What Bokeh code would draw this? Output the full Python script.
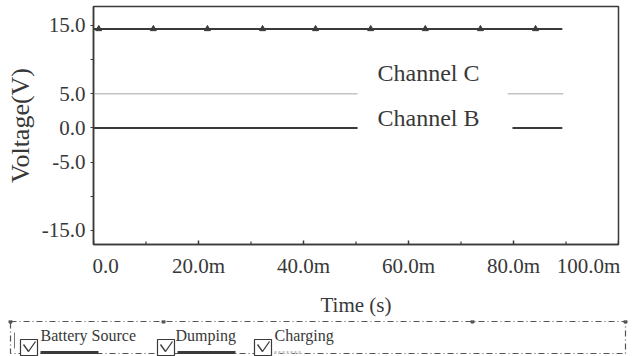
import math
from bokeh.plotting import figure
from bokeh.models import Range1d, FixedTicker
from bokeh.layouts import column
from bokeh.embed import file_html
from bokeh.resources import INLINE
from bokeh.core.properties import value

nan = float("nan")

# ---------------- data ----------------
time_ticks = [0, 20, 40, 60, 80, 100]
time_minor_ticks = [10, 30, 50, 70, 90]
time_tick_labels = ["0.0", "20.0m", "40.0m", "60.0m", "80.0m", "100.0m"]
# where the tick labels sit along the time axis (edge labels are pulled inwards)
time_label_pos = [2.3, 20, 40, 60, 80, 94.3]
volt_ticks = [15, 5, 0, -5, -15]
volt_tick_labels = ["15.0", "5.0", "0.0", "-5.0", "-15.0"]
volt_minor_ticks = [10, -10]

battery_t = [0.0, 89.3]
battery_v = [14.5, 14.5]
battery_marker_t = [1.0, 11.4, 21.7, 32.2, 42.3, 52.8, 63.2, 73.7, 84.2]
battery_marker_v = [14.5, 14.5, 14.5, 14.5, 14.5, 14.5, 14.5, 14.5, 14.5]

charging_t = [0.0, 50.3, nan, 78.9, 89.5]
charging_v = [5.0, 5.0, nan, 5.0, 5.0]

dumping_t = [0.0, 50.3, nan, 79.8, 89.3]
dumping_v = [0.0, 0.0, nan, 0.0, 0.0]

channel_names = ["Channel C", "Channel B"]
legend_names = ["Battery Source", "Dumping", "Charging"]

# ---------------- styles ----------------
SERIF = "Liberation Serif"
TXT = "#383838"
DARK = "#3a3a3a"
LIGHT = "#c4c4c4"

W = 633
Y0, Y1 = -17.05, 17.78
p = figure(width=W, height=320, output_backend="svg", toolbar_location=None,
           x_range=Range1d(0, 100), y_range=Range1d(Y0, Y1),
           min_border_left=93, min_border_right=15, min_border_top=6,
           min_border_bottom=76)
p.frame_align = False
p.toolbar.logo = None
p.grid.visible = False
p.background_fill_color = "white"
p.border_fill_color = "white"
p.outline_line_color = DARK
p.outline_line_width = 1.5

# x axis (labels; tick marks are drawn inside the frame below)
xa = p.xaxis[0]
xa.ticker = FixedTicker(ticks=time_label_pos, minor_ticks=[])
xa.major_label_overrides = {t: l for t, l in zip(time_label_pos, time_tick_labels)}
xa.axis_line_color = DARK
xa.axis_line_width = 1.5
xa.major_tick_line_color = None
xa.minor_tick_line_color = None
xa.major_tick_in = 0
xa.major_tick_out = 0
xa.minor_tick_in = 0
xa.minor_tick_out = 0
xa.major_label_standoff = 9
xa.major_label_text_font = SERIF
xa.major_label_text_font_size = "21px"
xa.major_label_text_color = TXT
xa.axis_label = "Time (s)"
xa.axis_label_text_font = SERIF
xa.axis_label_text_font_style = "normal"
xa.axis_label_text_font_size = "21px"
xa.axis_label_text_color = TXT
xa.axis_label_standoff = 12

# time tick marks, pointing into the frame
p.scatter(time_ticks, [Y0] * len(time_ticks), marker="dash", angle=math.pi / 2,
          size=8, line_color=DARK, line_width=1.5)
p.scatter(time_minor_ticks, [Y0] * len(time_minor_ticks), marker="dash",
          angle=math.pi / 2, size=6, line_color=DARK, line_width=1.2)

# y axis
ya = p.yaxis[0]
ya.ticker = FixedTicker(ticks=volt_ticks, minor_ticks=volt_minor_ticks)
ya.major_label_overrides = {t: l for t, l in zip(volt_ticks, volt_tick_labels)}
ya.axis_label = "Voltage(V)"
ya.axis_line_color = DARK
ya.axis_line_width = 1.5
ya.major_tick_line_color = DARK
ya.minor_tick_line_color = DARK
ya.major_label_text_font = SERIF
ya.major_label_text_font_size = "21px"
ya.major_label_text_color = TXT
ya.axis_label_text_font = SERIF
ya.axis_label_text_font_style = "normal"
ya.axis_label_text_color = TXT
ya.major_tick_in = 0
ya.major_tick_out = 3
ya.minor_tick_in = 0
ya.minor_tick_out = 3
ya.major_label_standoff = 5
ya.axis_label_text_font_size = "26px"
ya.axis_label_standoff = 4

# series
p.line(battery_t, battery_v, line_color=DARK, line_width=2)
p.scatter(battery_marker_t, battery_marker_v, marker="triangle", size=6,
          fill_color=DARK, line_color=DARK)
p.line(charging_t, charging_v, line_color=LIGHT, line_width=1.5)
p.line(dumping_t, dumping_v, line_color=DARK, line_width=2)

# channel labels
p.text(x=[54.1, 54.1], y=[7.98, 1.39], text=channel_names,
       text_font=value(SERIF), text_font_size="24px", text_color=TXT,
       text_baseline="middle", text_align="left")

# ---------------- legend strip ----------------
LH = 36
lg = figure(width=W, height=LH, output_backend="svg", toolbar_location=None,
            x_range=Range1d(0, W), y_range=Range1d(LH, 0),
            x_axis_type=None, y_axis_type=None, min_border=0)
lg.frame_align = False
lg.toolbar.logo = None
lg.grid.visible = False
lg.outline_line_color = None
lg.background_fill_color = "white"
lg.border_fill_color = "white"

# dash-dot frame
lg.line([10, 625, 625, 10, 10], [1, 1, 33, 33, 1], line_color="#555555",
        line_width=1.2, line_dash="6 3 1 3")
lg.scatter([10, 163, 472, 625], [1, 1, 1, 1], marker="square", size=3,
           fill_color="#555555", line_color="#555555")
lg.line([14, 14], [12, 28], line_color="#777777", line_width=1)

box_x = [20, 157, 254]
text_x = [40, 175, 274]
bar_x0 = [40, 177, 274]
bar_x1 = [98, 235, 300]
bar_color = [DARK, DARK, LIGHT]
bar_dash = ["solid", "solid", "2 2"]
for i, name in enumerate(legend_names):
    bx = box_x[i]
    lg.quad(left=[bx], right=[bx + 17], top=[19], bottom=[35],
            fill_color="white", line_color=DARK, line_width=1.2)
    lg.line([bx + 3, bx + 8, bx + 15], [24, 31, 21], line_color=DARK,
            line_width=1.3)
    lg.text(x=[text_x[i]], y=[6], text=[name], text_font=value(SERIF),
            text_font_size="16px", text_color=TXT, text_baseline="top",
            text_align="left")
    lg.line([bar_x0[i], bar_x1[i]], [32, 32], line_color=bar_color[i],
            line_width=3, line_dash=bar_dash[i])

layout = column(p, lg, spacing=0)
open("out.html", "w").write(file_html(layout, INLINE))
